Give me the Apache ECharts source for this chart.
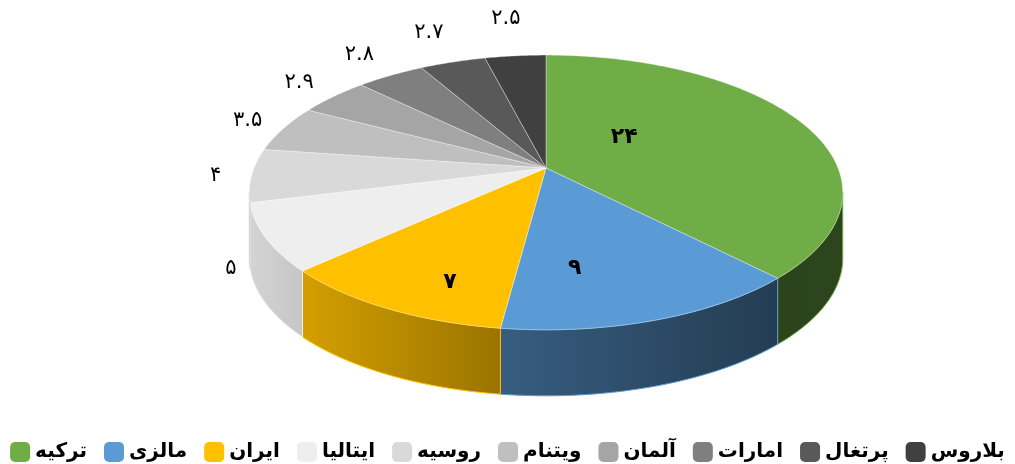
<!DOCTYPE html>
<html>
<head>
<meta charset="utf-8">
<script src="https://cdn.jsdelivr.net/npm/echarts@6/dist/echarts.min.js"></script>
<style>
  html, body { margin: 0; padding: 0; background: #fff; }
  #main { width: 1015px; height: 464px; }
</style>
</head>
<body>
<div id="main"></div>
<script>
var countries = ['ترکیه', 'مالزی', 'ایران', 'ایتالیا', 'روسیه', 'ویتنام', 'آلمان', 'امارات', 'پرتغال', 'بلاروس'];
var values = [24, 9, 7, 5, 4, 3.5, 2.9, 2.8, 2.7, 2.5];
var colors = ['#70AD47', '#5B9BD5', '#FFC000', '#EEEEEE', '#D9D9D9', '#BFBFBF', '#A5A5A5', '#7F7F7F', '#595959', '#404040'];

// inside labels: [fraction of slice angle, fraction of radius]
var insideLabel = { 0: [0.36, 0.37], 1: [0.71, 0.67], 2: [0.34, 0.80] };

var faDigits = '۰۱۲۳۴۵۶۷۸۹';
function toFa(v) {
  return String(v).replace(/[0-9]/g, function (d) { return faDigits[+d]; });
}

// pie geometry (a tilted disc with a little perspective)
var cx = 546, cy = 168, rx = 292, ry = 133, persp = 0.178, depth = 66;
var wallFrom = Math.acos(-persp), wallTo = 2 * Math.PI - wallFrom;

var total = values.reduce(function (a, b) { return a + b; }, 0);
var starts = [], ends = [];
var acc = 0;
values.forEach(function (v) {
  starts.push(acc / total * 2 * Math.PI);
  acc += v;
  ends.push(acc / total * 2 * Math.PI);
});

function proj(phi, r) {
  var u = Math.sin(phi) * r, v = -Math.cos(phi) * r;
  var s = 1 / (1 - persp * v);
  return [cx + rx * u * s, cy + ry * v * s];
}

// side light: darker on the right, lighter on the left
var shadeTable = [[90, 0.4], [140, 0.39], [187, 0.6], [227, 0.83], [260, 0.9], [270, 0.9]];
function shade(hex, phi) {
  var deg = phi * 180 / Math.PI, f = 0.4;
  for (var j = 0; j < shadeTable.length - 1; j++) {
    var p = shadeTable[j], q = shadeTable[j + 1];
    if (deg >= p[0] && deg <= q[0]) { f = p[1] + (q[1] - p[1]) * (deg - p[0]) / (q[0] - p[0]); break; }
    if (deg > q[0]) f = q[1];
  }
  var r = parseInt(hex.substr(1, 2), 16), g = parseInt(hex.substr(3, 2), 16), b = parseInt(hex.substr(5, 2), 16);
  return 'rgb(' + Math.round(r * f) + ',' + Math.round(g * f) + ',' + Math.round(b * f) + ')';
}

function renderItem(params, api) {
  var i = params.dataIndex;
  var a0 = starts[i], a1 = ends[i];
  var children = [];
  var j, n, p;

  // front wall
  var w0 = Math.max(a0, wallFrom), w1 = Math.min(a1, wallTo);
  if (w1 > w0) {
    var wall = [];
    n = Math.max(2, Math.ceil((w1 - w0) / 0.01));
    for (j = 0; j <= n; j++) wall.push(proj(w0 + (w1 - w0) * j / n, 1));
    for (j = n; j >= 0; j--) {
      p = proj(w0 + (w1 - w0) * j / n, 1);
      wall.push([p[0], p[1] + depth]);
    }
    children.push({
      type: 'polygon',
      shape: { points: wall },
      style: {
        fill: new echarts.graphic.LinearGradient(0, 0, 1, 0, [
          { offset: 0, color: shade(colors[i], w1) },
          { offset: 1, color: shade(colors[i], w0) }
        ]),
        stroke: colors[i],
        lineWidth: 1
      }
    });
  }

  // top face
  var top = [[cx, cy]];
  n = Math.max(2, Math.ceil((a1 - a0) / 0.01));
  for (j = 0; j <= n; j++) top.push(proj(a0 + (a1 - a0) * j / n, 1));
  children.push({
    type: 'polygon',
    shape: { points: top },
    style: { fill: colors[i], stroke: 'rgba(255,255,255,0.35)', lineWidth: 1 }
  });

  // label
  var lx, ly, font;
  if (insideLabel[i]) {
    p = proj(a0 + (a1 - a0) * insideLabel[i][0], insideLabel[i][1]);
    lx = p[0]; ly = p[1];
    font = 'bold 22px "DejaVu Sans"';
  } else {
    var mid = (a0 + a1) / 2;
    p = proj(mid, 1);
    var dx = p[0] - cx, dy = p[1] - cy, len = Math.sqrt(dx * dx + dy * dy);
    dx /= len; dy /= len;
    lx = p[0] + dx * 36;
    ly = p[1] + dy * 36 - 3 + Math.max(0, dy) * depth * 1.6;
    font = '21px "DejaVu Sans"';
  }
  children.push({
    type: 'text',
    x: lx, y: ly,
    style: { text: toFa(values[i]), fill: '#000', font: font, align: 'center', verticalAlign: 'middle' }
  });

  return { type: 'group', children: children };
}

var chart = echarts.init(document.getElementById('main'));
var option = {
  animation: false,
  color: colors,
  legend: {
    top: 437,
    left: 'center',
    icon: 'roundRect',
    itemWidth: 20,
    itemHeight: 20,
    itemGap: 17,
    selectedMode: false,
    textStyle: { fontFamily: 'DejaVu Sans', fontWeight: 'bold', fontSize: 20, color: '#000' },
    data: countries
  },
  series: [
    {
      type: 'custom',
      coordinateSystem: 'none',
      silent: true,
      renderItem: renderItem,
      data: values.map(function (v, i) { return { name: countries[i], value: v }; })
    },
    {
      // legend carrier only
      type: 'pie',
      radius: [0, 0],
      silent: true,
      label: { show: false },
      data: values.map(function (v, i) { return { name: countries[i], value: v, itemStyle: { color: colors[i] } }; })
    }
  ]
};
chart.setOption(option);
</script>
</body>
</html>
